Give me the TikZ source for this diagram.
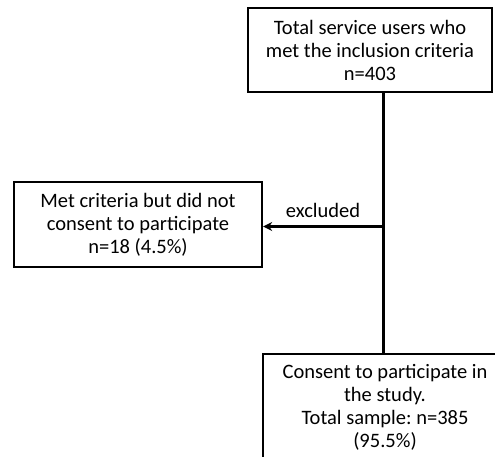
\documentclass[tikz,border=0pt]{standalone}
\usepackage{fontspec}
\setmainfont{Carlito}
\frenchspacing
\usetikzlibrary{arrows.meta}
\usetikzlibrary{calc}
\colorlet{boxline}{black}
\tikzset{
    flowtext/.style={font=\fontsize{20.5}{23}\selectfont},
    flowbox/.style={draw=boxline, line width=2.3pt, align=center, inner sep=0pt, flowtext},
    flowline/.style={draw=boxline, line width=3pt}
}

\begin{document}
\begin{tikzpicture}[x=1pt, y=-1pt]
        \useasboundingbox (0,0) rectangle (495,457);
        % boxes
        \node[flowbox, minimum width=244pt, minimum height=84pt] (total) at (370,50)
            {Total service users who\\met the inclusion criteria\\n=403};
        \node[flowbox, minimum width=248pt, minimum height=85pt] (declined) at (138,224.5)
            {Met criteria but did not\\consent to participate\\n=18 (4.5\%)};
        \node[flowbox, minimum width=270pt, minimum height=120pt, anchor=north west,
            text depth=0pt] (sample) at (262,353) {};
        \node[align=center, flowtext, anchor=north] (sampletext)
            at (385,361) {Consent to participate in\\the study.\\Total sample: n=385\\(95.5\%)};
        % branch point on the main line
        \coordinate (split) at (total.south -| 383,0);
        \coordinate (turn) at ($(split |- declined.east)+(0,2)$);
        % main line
        \draw[flowline] (total.south -| split) -- (sample.north -| split);
        % excluded arrow
        \draw[flowline, -{Stealth[length=9pt, width=9pt]}] (turn) -- (declined.east |- turn)
            node[midway, above=4pt, flowtext] {excluded};
    \end{tikzpicture}
\end{document}
